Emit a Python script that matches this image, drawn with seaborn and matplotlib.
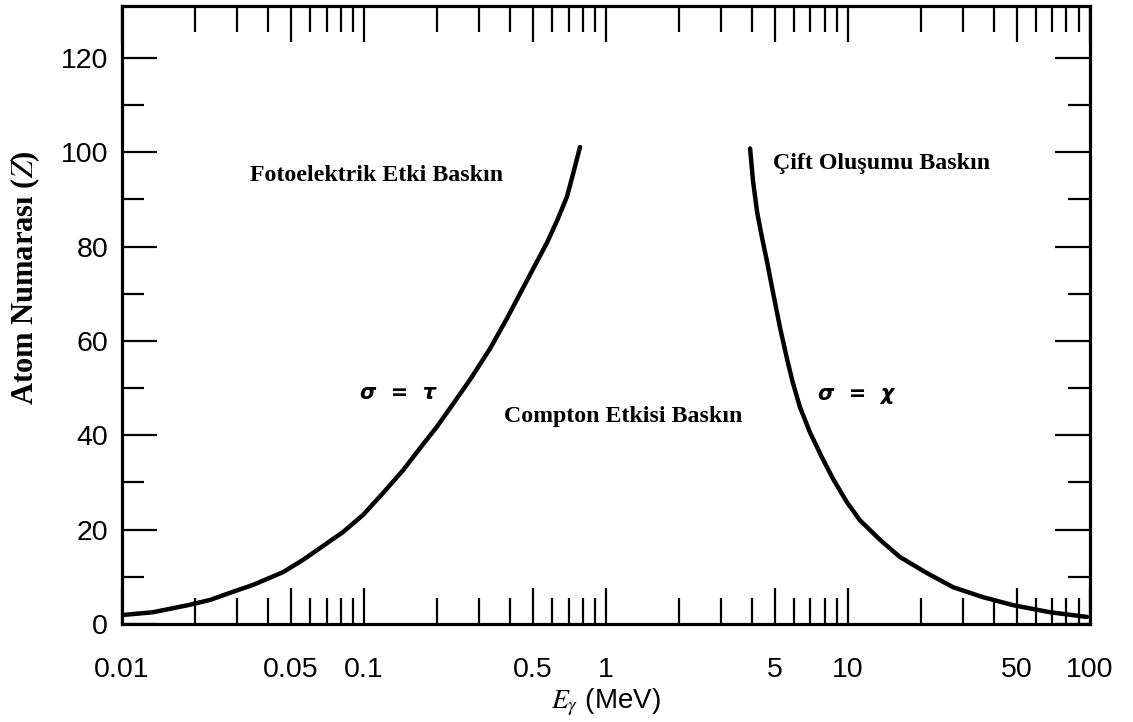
import pandas as pd
import matplotlib.pyplot as plt
import seaborn as sns

# sinir egrileri
e_foto = [0.01, 0.01343, 0.01875, 0.0231, 0.0279, 0.0348, 0.0463, 0.056, 0.0658, 0.0819, 0.099,
          0.120, 0.145, 0.170, 0.200, 0.233, 0.276, 0.332, 0.390, 0.441, 0.499, 0.570, 0.628,
          0.690, 0.731, 0.781]
z_foto = [1.9, 2.5, 4.0, 5.1, 6.6, 8.3, 11.0, 13.6, 16.1, 19.5, 23.1,
          27.8, 32.6, 37.2, 41.8, 46.6, 52.0, 58.4, 64.8, 70.0, 75.2, 80.8, 85.5,
          90.6, 95.4, 101.1]

e_cift = [3.94, 4.05, 4.21, 4.41, 4.63, 4.90, 5.24, 5.60, 5.90, 6.33, 6.97, 7.81, 8.67,
          9.91, 11.2, 13.6, 16.4, 21.2, 27.2, 36.1, 48.1, 68.4, 97.2]
z_cift = [100.8, 94.0, 87.4, 82.0, 76.8, 70.3, 62.8, 56.2, 51.4, 46.0, 40.6, 35.3, 30.8,
          25.8, 22.0, 17.8, 14.2, 10.8, 7.8, 5.7, 4.0, 2.5, 1.5]

x_major = [0.01, 0.05, 0.1, 0.5, 1, 5, 10, 50, 100]
x_labels = ["0.01", "0.05", "0.1", "0.5", "1", "5", "10", "50", "100"]
x_minor = [m * d for d in [0.01, 0.1, 1, 10] for m in [2, 3, 4, 6, 7, 8, 9]]
y_major = [0, 20, 40, 60, 80, 100, 120]
y_minor = [10, 30, 50, 70, 90, 110]

df_foto = pd.DataFrame({"E": e_foto, "Z": z_foto})
df_cift = pd.DataFrame({"E": e_cift, "Z": z_cift})

sns.set_style("ticks")
plt.rcParams["font.family"] = ["Liberation Sans", "DejaVu Sans"]
plt.rcParams["mathtext.fontset"] = "stix"
plt.rcParams["text.color"] = "black"
plt.rcParams["axes.labelcolor"] = "black"

fig = plt.figure(figsize=(11.33, 7.22), dpi=100)
ax = fig.add_axes([0.1077, 0.1357, 0.8543, 0.856])

sns.lineplot(data=df_foto, x="E", y="Z", color="black", linewidth=3.2, sort=False,
             estimator=None, ax=ax, solid_capstyle="round", solid_joinstyle="round")
sns.lineplot(data=df_cift, x="E", y="Z", color="black", linewidth=3.2, sort=False,
             estimator=None, ax=ax, solid_capstyle="round", solid_joinstyle="round")

ax.set_xscale("log")
ax.set_xlim(0.01, 100)
ax.set_ylim(0, 131)
ax.set_xticks(x_major)
ax.set_xticklabels(x_labels)
ax.set_xticks(x_minor, minor=True)
ax.set_xticklabels([], minor=True)
ax.set_yticks(y_major)
ax.set_yticks(y_minor, minor=True)

for s in ax.spines.values():
    s.set_linewidth(2.3)
    s.set_color("black")

ax.tick_params(which="both", direction="in", top=True, right=True, width=1.6, color="black",
               labelsize=20.5, labelcolor="black")
ax.tick_params(axis="x", which="major", length=26, pad=24)
ax.tick_params(axis="x", which="minor", length=18.5)
ax.tick_params(axis="y", which="major", length=25, pad=10)
ax.tick_params(axis="y", which="minor", length=16)

ax.set_xlabel(r"$E_{\gamma}$ (MeV)", fontsize=20, labelpad=2)
ax.set_ylabel(r"Atom Numarası ($\mathbf{\mathit{Z}}$)", fontsize=22, fontweight="bold",
              family=["Liberation Serif", "DejaVu Serif"])
ax.yaxis.set_label_coords(-0.083, 0.56)

serif = dict(family=["Liberation Serif", "DejaVu Serif"], fontweight="bold", fontsize=17.2, color="black")
ax.text(0.0338, 95, "Fotoelektrik Etki Baskın", va="center", ha="left", **serif)
ax.text(0.38, 44, "Compton Etkisi Baskın", va="center", ha="left", **serif)
ax.text(4.9, 97.7, "Çift Oluşumu Baskın", va="center", ha="left", **serif)

greek = dict(family="DejaVu Sans", fontweight="bold", style="italic", fontsize=15, color="black")
ax.text(0.096, 49, "σ  =  τ", va="center", ha="left", **greek)
ax.text(7.5, 48.7, "σ  =  χ", va="center", ha="left", **greek)

plt.savefig("out.png", dpi=100)
